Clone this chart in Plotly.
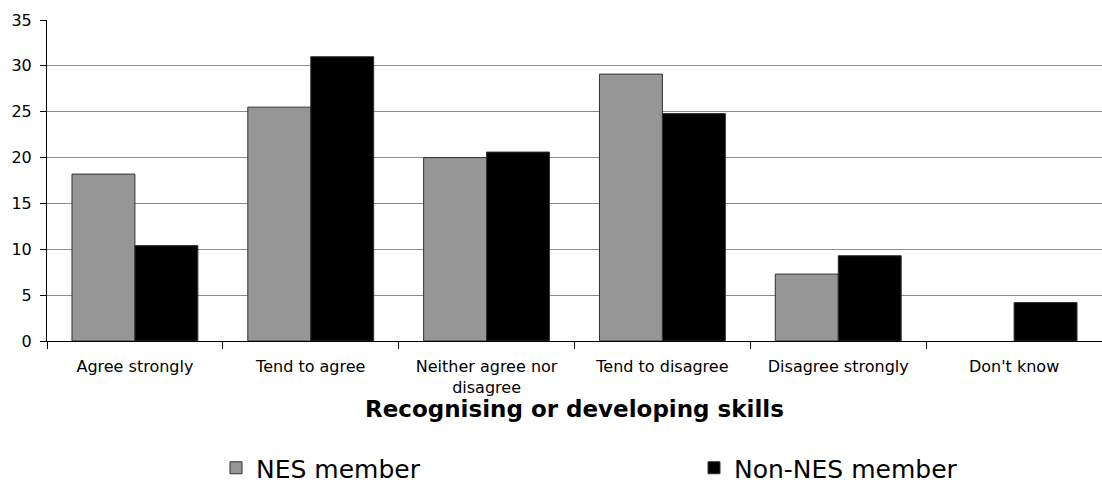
import plotly.graph_objects as go

categories = ["Agree strongly", "Tend to agree", "Neither agree nor<br>disagree",
              "Tend to disagree", "Disagree strongly", "Don't know"]
nes_member = [18.2, 25.5, 20.0, 29.1, 7.3, 0]
non_nes_member = [10.4, 31.0, 20.6, 24.8, 9.3, 4.2]
y_ticks = [0, 5, 10, 15, 20, 25, 30, 35]

outline_nes = [1 if v > 0 else 0 for v in nes_member]
outline_non = [1 if v > 0 else 0 for v in non_nes_member]

fig = go.Figure()
fig.add_trace(go.Bar(x=categories, y=nes_member, name="NES member", legend="legend",
                     marker=dict(color="#969696", line=dict(color="#333333", width=outline_nes))))
fig.add_trace(go.Bar(x=categories, y=non_nes_member, name="Non-NES member", legend="legend2",
                     marker=dict(color="#000000", line=dict(color="#333333", width=outline_non))))

legend_font = dict(family="DejaVu Sans", size=25, color="black")
fig.update_layout(
    width=1102, height=484,
    margin=dict(l=47, r=0, t=20, b=143),
    plot_bgcolor="white", paper_bgcolor="white",
    barmode="group", bargap=0.284, bargroupgap=0,
    showlegend=True,
    legend=dict(x=(216 - 47) / 1055, xanchor="left", xref="paper",
                y=(484 - 468) / 484, yanchor="middle", yref="container",
                font=legend_font, bgcolor="rgba(0,0,0,0)", borderwidth=0),
    legend2=dict(x=(694 - 47) / 1055, xanchor="left", xref="paper",
                 y=(484 - 468) / 484, yanchor="middle", yref="container",
                 font=legend_font, bgcolor="rgba(0,0,0,0)", borderwidth=0),
    annotations=[dict(text="<b>Recognising or developing skills</b>", x=0.5, xref="paper",
                      y=(341 - 409) / 321, yref="paper", yanchor="middle", xanchor="center",
                      showarrow=False,
                      font=dict(family="DejaVu Sans", size=23, color="black"))],
)
fig.update_xaxes(showline=True, linecolor="black", linewidth=1,
                 ticks="outside", tickson="boundaries", ticklen=7, tickcolor="black",
                 ticklabelstandoff=11,
                 tickfont=dict(family="DejaVu Sans", size=16, color="black"),
                 showgrid=False)
fig.update_yaxes(range=[0, 35], tickvals=y_ticks, showline=True, linecolor="black", linewidth=1,
                 ticks="outside", ticklen=6, tickcolor="black",
                 ticklabelstandoff=5,
                 tickfont=dict(family="DejaVu Sans", size=16, color="black"),
                 showgrid=True, gridcolor="#8c8c8c", gridwidth=1, zeroline=False)

fig.write_html("out.html")
